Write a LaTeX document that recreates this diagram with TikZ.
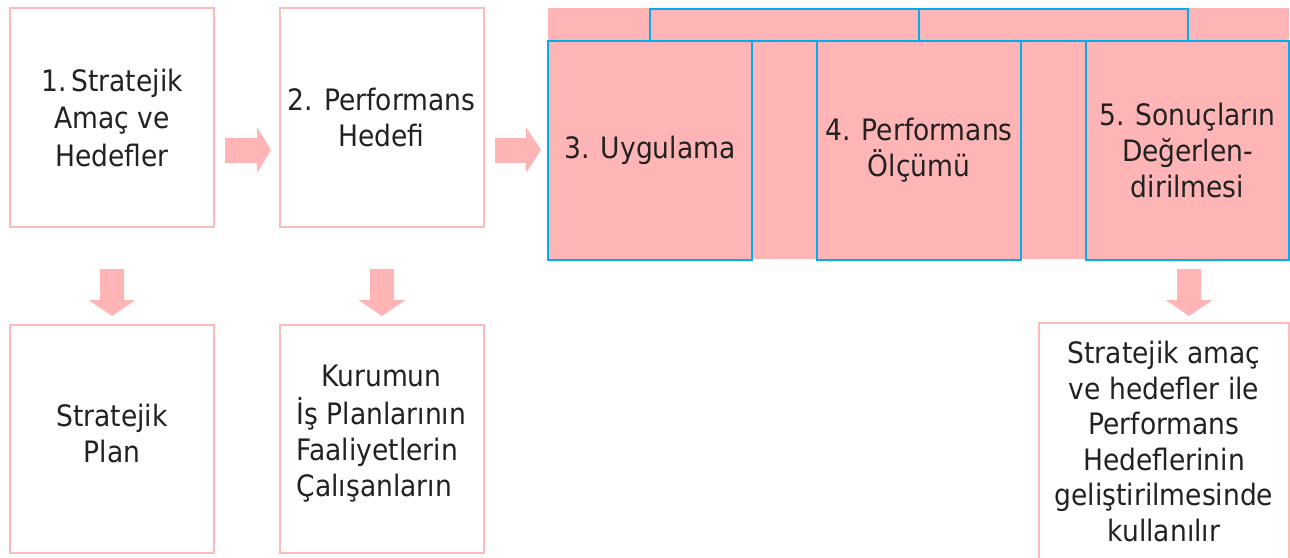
\documentclass[tikz,border=0pt]{standalone}
\usepackage{fontspec}
\setmainfont{DejaVu Sans Condensed}
\definecolor{pinkc}{HTML}{FFB5B5}
\definecolor{pinkline}{HTML}{FFBABA}
\definecolor{bluec}{HTML}{00AEEF}
\definecolor{txt}{HTML}{222222}
\tikzset{
  txtfont/.style={font=\fontsize{29.5pt}{36pt}\selectfont, text=txt, align=center},
  wbox/.style={draw=pinkline, line width=2pt, fill=white, inner sep=0pt},
  bbox/.style={draw=bluec, line width=2.6pt, fill=pinkc, inner sep=0pt},
  blockarrow/.style={fill=pinkc, draw=none},
}
\begin{document}
\begin{tikzpicture}[x=1pt,y=-1pt]
\useasboundingbox (0,0) rectangle (1290,557);
% left column boxes
\node[wbox, minimum width=204pt, minimum height=219pt] (b1) at (112,117.5) {};
\node[txtfont, font=\fontsize{29.5pt}{37.5pt}\selectfont] (t1) at (b1.center) {1.\,Stratejik\\Amaç ve\\Hedefler};
\node[wbox, minimum width=204pt, minimum height=219pt] (b2) at (381.5,117.5) {};
\node[txtfont] (t2) at (b2.center) {2. Performans\\Hedefi};
% right group
\node[fill=pinkc, minimum width=741pt, minimum height=251pt, inner sep=0pt] (grp) at (918.5,133.5) {};
\node[bbox, minimum width=269pt, minimum height=32pt] (s1) at (784.5,25) {};
\node[bbox, minimum width=269pt, minimum height=32pt] (s2) at (1053.5,25) {};
\node[bbox, minimum width=204pt, minimum height=219pt] (b3) at (650,150.5) {};
\node[txtfont] (t3) at (b3.center) {3. Uygulama};
\node[bbox, minimum width=204pt, minimum height=219pt] (b4) at (919,150.5) {};
\node[txtfont] (t4) at (b4.center) {4. Performans\\Ölçümü};
\node[bbox, minimum width=203pt, minimum height=219pt] (b5) at (1187.5,150.5) {};
\node[txtfont] (t5) at (b5.center) {5. Sonuçların\\Değerlen-\\dirilmesi};
% bottom boxes
\node[wbox, minimum width=204pt, minimum height=228pt] (c1) at (112,439) {};
\node[txtfont] (u1) at (112,433) {Stratejik\\Plan};
\node[wbox, minimum width=204pt, minimum height=228pt] (c2) at (381.5,439) {};
\node[txtfont, inner sep=0pt] (u2) at (381.5,434) {\begin{tabular}{@{}l@{}}\multicolumn{1}{@{}c@{}}{Kurumun}\\İş Planlarının\\Faaliyetlerin\\Çalışanların\end{tabular}};
\node[wbox, minimum width=250pt, minimum height=260pt] (c5) at (1164,453) {};
\node[txtfont, font=\fontsize{29.5pt}{35.5pt}\selectfont] (u5) at (1164,441.5) {Stratejik amaç\\ve hedefler ile\\Performans\\Hedeflerinin\\geliştirilmesinde\\kullanılır};
% horizontal block arrows
\fill[blockarrow] (225,138) -- (257,138) -- (257,127) -- (271,150) -- (257,173) -- (257,163) -- (225,163) -- cycle;
\fill[blockarrow] (495,138) -- (526,138) -- (526,127) -- (541,150) -- (526,173) -- (526,163) -- (495,163) -- cycle;
% vertical block arrows
\foreach \cx in {112,382,1189}{
  \fill[blockarrow] (\cx-12,269) -- (\cx+12,269) -- (\cx+12,300) -- (\cx+23.5,300) -- (\cx,316) -- (\cx-23.5,300) -- (\cx-12,300) -- cycle;
}
\end{tikzpicture}
\end{document}
